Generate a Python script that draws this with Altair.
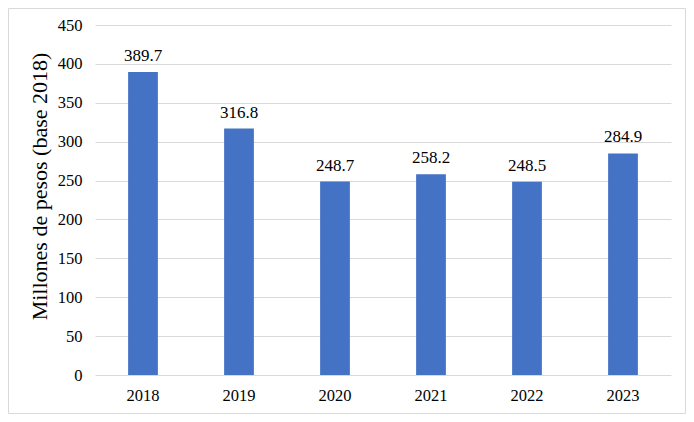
import altair as alt
import pandas as pd

years = ["2018", "2019", "2020", "2021", "2022", "2023"]
values = [389.7, 316.8, 248.7, 258.2, 248.5, 284.9]

df = pd.DataFrame({"year": years, "value": values})
df["label"] = [f"{v:.1f}" for v in values]

FONT = "Liberation Serif"
GRID = "#d9d9d9"

base = alt.Chart(df).encode(
    x=alt.X("year:N", sort=years,
            scale=alt.Scale(paddingInner=0.69, paddingOuter=0.345),
            axis=alt.Axis(title=None, labelAngle=0, ticks=False, domain=False,
                          labelPadding=12, labelFontSize=16.5, labelFont=FONT,
                          labelColor="#000000")),
    y=alt.Y("value:Q", scale=alt.Scale(domain=[0, 450], nice=False),
            axis=alt.Axis(values=list(range(0, 451, 50)), ticks=False, domain=False,
                          gridColor=GRID, gridWidth=1, labelPadding=13,
                          labelFontSize=16.5, labelFont=FONT, labelColor="#000000",
                          title="Millones de pesos (base 2018)", titleFont=FONT,
                          titleFontSize=22, titleFontWeight="normal",
                          titleColor="#000000", titleX=-56, titleY=161,
                          titleBaseline="middle", titleAlign="center", titleAngle=270)),
)

bars = base.mark_bar(color="#4472C4")
text = base.mark_text(dy=-11, baseline="alphabetic", font=FONT, fontSize=17,
                      color="#000000").encode(text="label:N")

frame = alt.Chart(alt.Data(values=[{}])).mark_rect(
    fill=None, stroke=GRID, strokeWidth=1
).encode(
    x=alt.value(-86.5), x2=alt.value(590.5),
    y=alt.value(-16.5), y2=alt.value(388.5),
)

chart = alt.layer(frame, bars, text).properties(
    width=576, height=350,
    autosize=alt.AutoSizeParams(type="none"),
    padding={"left": 87, "top": 17, "right": 15, "bottom": 39},
    background="white",
).configure(font=FONT).configure_view(stroke=None)

chart.save("out.html", embed_options={"renderer": "svg", "actions": False})
